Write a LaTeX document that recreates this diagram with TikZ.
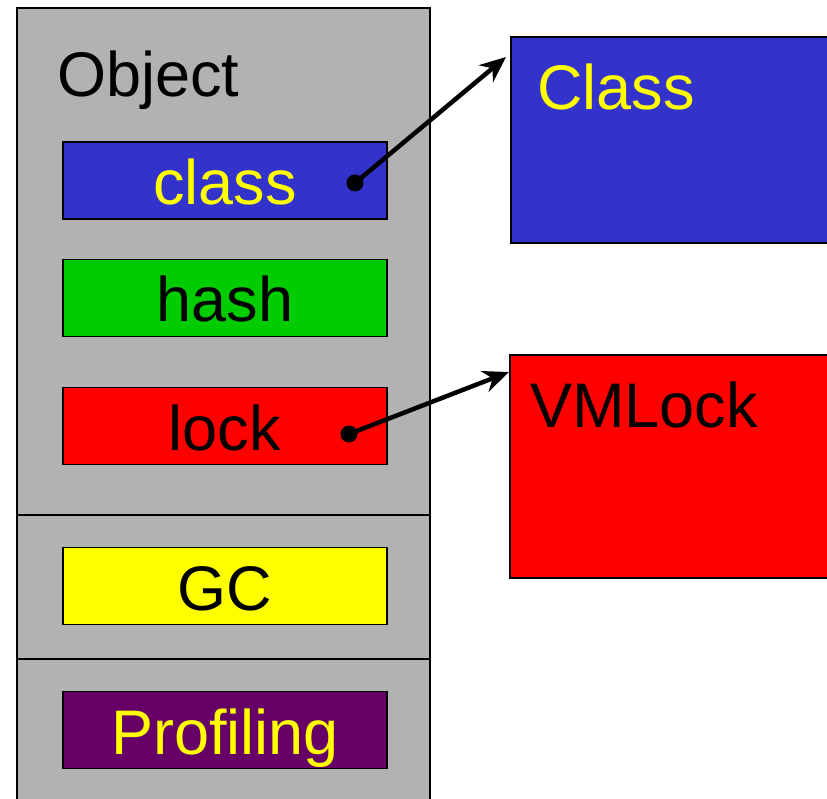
\documentclass[tikz,border=0pt]{standalone}
\usepackage{fontspec}
\setmainfont{Liberation Sans}
\usetikzlibrary{arrows.meta,calc}
\definecolor{objgray}{HTML}{B2B2B2}
\definecolor{clsblue}{HTML}{3333CC}
\definecolor{hashgreen}{HTML}{00CC00}
\definecolor{lockred}{HTML}{FF0000}
\definecolor{gcyellow}{HTML}{FFFF00}
\definecolor{profpurple}{HTML}{660066}
\begin{document}
\begin{tikzpicture}[x=1pt,y=-1pt,
  big/.style={font=\fontsize{63}{70}\selectfont},
  field/.style={big,draw=black,line width=1.3pt,minimum width=324pt,minimum height=77pt,
    inner sep=0pt,text height=48pt,text depth=0pt},
  panel/.style={draw=black,line width=1.3pt},
  label/.style={big,anchor=base west,inner sep=0pt},
  link/.style={line width=4.5pt,-{Stealth[length=26pt,width=22pt]}},
  pin/.style={fill=black,circle,inner sep=0pt,minimum size=17pt}]
\useasboundingbox (0,0) rectangle (827,799);
\clip (0,0) rectangle (827,799);
\fill[white] (0,0) rectangle (827,799);

% object layout column
\draw[panel,fill=objgray] (17,8) rectangle (430,820);
\draw[panel] (17,515) -- (430,515);
\draw[panel] (17,659) -- (430,659);
\node[label] (objlabel) at (57,97) {Object};

% header fields
\node[field,fill=clsblue,text=gcyellow] (clsfield) at (225,180.5) {class};
\node[field,fill=hashgreen] (hashfield) at (225,298) {hash};
\node[field,fill=lockred] (lockfield) at (225,426) {lock};
\node[field,fill=gcyellow] (gcfield) at (225,586) {GC};
\node[field,fill=profpurple,text=gcyellow] (proffield) at (225,730) {Profiling};

% referenced structures
\draw[panel,fill=clsblue] (511,37) rectangle (840,243);
\coordinate (clsbox) at (511,37);
\node[label,text=gcyellow] (clslabel) at (537,110) {Class};
\draw[panel,fill=lockred] (510,355) rectangle (840,578);
\coordinate (lockbox) at (510,355);
\node[label] (locklabel) at (530,427) {VMLock};

% pointers
\node[pin] (clspin) at (355,183) {};
\node[pin] (lockpin) at (349,434) {};
\draw[link] (clspin.center) -- ($(clsbox)+(-5,20)$);
\draw[link] (lockpin.center) -- ($(lockbox)+(-1,17)$);
\end{tikzpicture}
\end{document}
